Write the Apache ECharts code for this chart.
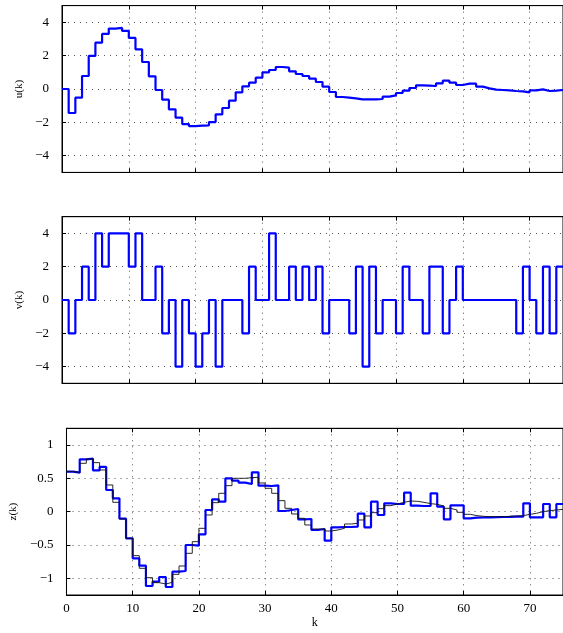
<!DOCTYPE html>
<html><head><meta charset="utf-8">
<script src="https://cdn.jsdelivr.net/npm/echarts@6/dist/echarts.min.js"></script>
<style>html,body{margin:0;padding:0;background:#fff;overflow:hidden}#c{width:563px;height:633px}</style>
</head><body><div id="c"></div>
<script>
// ---- data ----
const kTicks = [0, 10, 20, 30, 40, 50, 60, 70];
const uTicks = [-4, -2, 0, 2, 4];
const vTicks = [-4, -2, 0, 2, 4];
const zTicks = [-1, -0.5, 0, 0.5, 1];

// u(k), k = 0..74
const uVals = [0, -1.44, -0.52, 0.78, 1.98, 2.78, 3.3, 3.62, 3.66, 3.48,
  3.06, 2.38, 1.62, 0.76, -0.06, -0.64, -1.22, -1.72, -2.1, -2.22,
  -2.2, -2.18, -1.98, -1.52, -1.14, -0.7, -0.2, 0.16, 0.38, 0.68,
  1.0, 1.14, 1.32, 1.28, 1.06, 0.9, 0.78, 0.62, 0.42, 0.14,
  -0.18, -0.48, -0.52, -0.56, -0.62, -0.62, -0.62, -0.6, -0.46, -0.38,
  -0.24, -0.1, 0.06, 0.22, 0.2, 0.18, 0.34, 0.5, 0.38, 0.24,
  0.32, 0.32, 0.14, 0.04, -0.04, -0.06, -0.08, -0.12, -0.14, -0.2,
  -0.08, -0.02, -0.12, -0.1, -0.06];

// v(k), k = 0..74
const vVals = [0, -2, 0, 2, 0, 4, 2, 4, 4, 4,
  2, 4, 0, 0, 2, -2, 0, -4, 0, -2,
  -4, -2, 0, -4, 0, 0, 0, -2, 2, 0,
  0, 4, 0, 0, 2, 0, 2, 0, 2, -2,
  0, 0, 0, -2, 2, -4, 2, -2, 0, 0,
  -2, 2, 0, 0, -2, 2, 2, -2, 0, 2,
  0, 0, 0, 0, 0, 0, 0, 0, -2, 2,
  0, -2, 2, -2, 2];

// z(k) measured (thick blue), k = 0..74
const zMeas = [0.6, 0.585, 0.785, 0.795, 0.62, 0.67, 0.325, 0.2, -0.105, -0.4,
  -0.7, -0.81, -1.115, -1.05, -0.98, -1.13, -0.9, -0.89, -0.5, -0.51,
  -0.34, 0.025, 0.185, 0.15, 0.5, 0.465, 0.435, 0.415, 0.59, 0.39,
  0.385, 0.395, 0.01, 0.025, 0.04, -0.115, -0.11, -0.275, -0.26, -0.435,
  -0.235, -0.23, -0.23, -0.225, -0.03, -0.235, 0.15, -0.05, 0.125, 0.115,
  0.115, 0.285, 0.09, 0.085, 0.085, 0.275, 0.075, -0.115, 0.095, 0.095,
  -0.1, -0.09, -0.088, -0.085, -0.083, -0.08, -0.078, -0.075, -0.075, 0.125,
  -0.085, -0.085, 0.115, -0.085, 0.115];

// z(k) model (thin black), k = 0..74
const zModel = [0.6, 0.59, 0.725, 0.79, 0.735, 0.625, 0.4, 0.14, -0.11, -0.4,
  -0.66, -0.85, -0.99, -1.065, -1.085, -1.06, -0.94, -0.815, -0.625, -0.45,
  -0.25, -0.05, 0.135, 0.275, 0.39, 0.5, 0.5, 0.51, 0.515, 0.43,
  0.35, 0.275, 0.165, 0.05, -0.035, -0.1, -0.2, -0.26, -0.26, -0.29,
  -0.275, -0.25, -0.185, -0.175, -0.125, -0.065, -0.015, 0.045, 0.09, 0.115,
  0.14, 0.16, 0.155, 0.14, 0.12, 0.11, 0.085, 0.05, 0.025, -0.01,
  -0.04, -0.06, -0.07, -0.075, -0.075, -0.075, -0.07, -0.065, -0.06, -0.04,
  -0.025, 0, 0.015, 0.025, 0.035];

// ---- chart ----
const FONT = "'Liberation Serif','Times New Roman',serif";
function stairs(vals) {
  const d = vals.map((v, i) => [i, v]);
  d.push([vals.length, vals[vals.length - 1]]);
  return d;
}
const minus = v => String(v).replace('-', '\u2212');
const dotted = { color: '#555', type: [1, 5], width: 1 };

const grids = [
  { left: 62, top: 5.6, width: 506, height: 166.8 },
  { left: 62, top: 216.7, width: 506, height: 166.6 },
  { left: 62, top: 428.3, width: 506, height: 166.7 }
].map(g => Object.assign(g, { show: true, borderColor: '#000', borderWidth: 1, backgroundColor: '#fff' }));

const xAxes = [];
const yAxes = [];
const yCfg = [
  { name: 'u(k)', min: -5, max: 5, ticks: uTicks },
  { name: 'v(k)', min: -5, max: 5, ticks: vTicks },
  { name: 'z(k)', min: -1.25, max: 1.25, ticks: zTicks }
];
for (let i = 0; i < 3; i++) {
  xAxes.push({
    type: 'value', gridIndex: i, min: 0, max: 75, position: 'bottom',
    name: i === 2 ? 'k' : '', nameLocation: 'middle', nameGap: 22,
    nameTextStyle: { fontFamily: FONT, fontSize: 12, color: '#000' },
    axisLine: { show: true, onZero: false, lineStyle: { color: '#000', width: 1 } },
    axisTick: { show: true, inside: true, length: 4, customValues: kTicks, lineStyle: { color: '#000' } },
    axisLabel: { show: i === 2, customValues: kTicks, fontFamily: FONT, fontSize: 13, color: '#000', margin: 7 },
    splitLine: { show: true, lineStyle: dotted }
  });
  xAxes.push({
    type: 'value', gridIndex: i, min: 0, max: 75, position: 'top',
    axisLine: { show: true, onZero: false, lineStyle: { color: '#000', width: 1 } },
    axisTick: { show: true, inside: true, length: 4, customValues: kTicks, lineStyle: { color: '#000' } },
    axisLabel: { show: false },
    splitLine: { show: false }
  });
  const c = yCfg[i];
  yAxes.push({
    type: 'value', gridIndex: i, min: c.min, max: c.max,
    name: c.name, nameLocation: 'middle', nameGap: 33,
    nameTextStyle: { fontFamily: FONT, fontSize: 11, color: '#000' },
    axisLine: { show: true, onZero: false, lineStyle: { color: '#000', width: 1 } },
    axisTick: { show: true, inside: true, length: 4, customValues: c.ticks, lineStyle: { color: '#000' } },
    axisLabel: { customValues: c.ticks, fontFamily: FONT, fontSize: 13, color: '#000', margin: 13, formatter: minus },
    splitLine: { show: true, lineStyle: dotted }
  });
}

const lineBase = { type: 'line', step: 'end', showSymbol: false, symbol: 'none', animation: false };
const series = [
  Object.assign({}, lineBase, { name: 'u', xAxisIndex: 0, yAxisIndex: 0, data: stairs(uVals),
    lineStyle: { color: '#0000ff', width: 2.2 }, itemStyle: { color: '#0000ff' } }),
  Object.assign({}, lineBase, { name: 'v', xAxisIndex: 2, yAxisIndex: 1, data: stairs(vVals),
    lineStyle: { color: '#0000ff', width: 2.2 }, itemStyle: { color: '#0000ff' } }),
  Object.assign({}, lineBase, { name: 'z', xAxisIndex: 4, yAxisIndex: 2, data: stairs(zMeas),
    lineStyle: { color: '#0000ff', width: 2.2 }, itemStyle: { color: '#0000ff' }, z: 2 }),
  Object.assign({}, lineBase, { name: 'zm', xAxisIndex: 4, yAxisIndex: 2, data: stairs(zModel),
    lineStyle: { color: '#111', width: 0.9 }, itemStyle: { color: '#111' }, z: 3 })
];

const chart = echarts.init(document.getElementById('c'), null, { renderer: 'canvas' });
chart.setOption({
  backgroundColor: '#fff',
  animation: false,
  grid: grids,
  xAxis: xAxes,
  yAxis: yAxes,
  series: series
});
</script>
</body></html>
